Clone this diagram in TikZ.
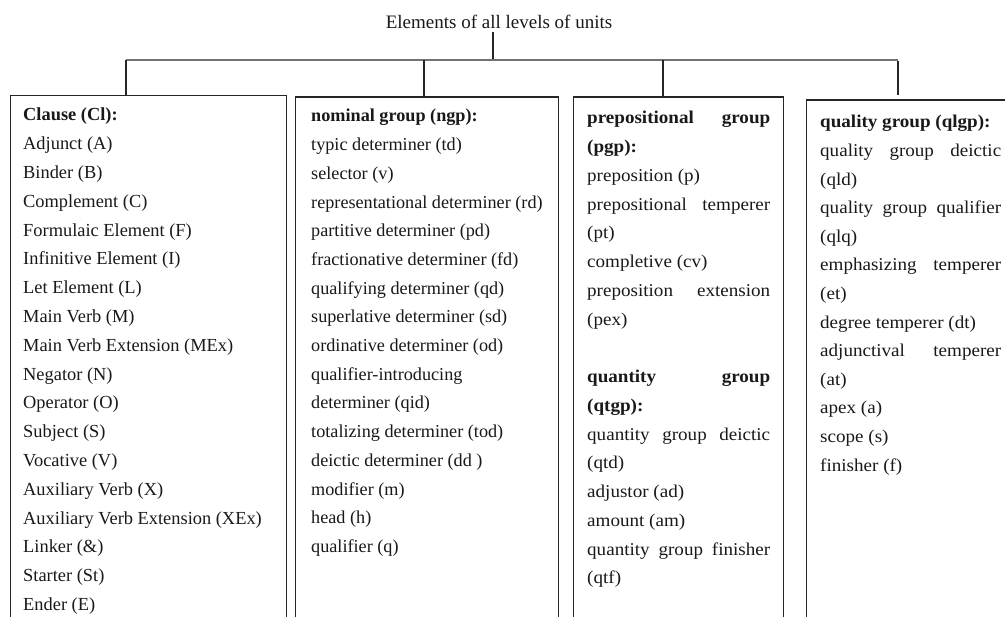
\documentclass[tikz,border=0pt]{standalone}
\usepackage{fontspec}
\setmainfont{Liberation Serif}
\newfontfamily\widefont[FakeStretch=1.06]{Liberation Serif}
% a line spread over the whole column width
\newcommand\spreadline[1]{\leavevmode\hbox to \linewidth{#1}}
\begin{document}
\begin{tikzpicture}[x=1pt,y=-1pt,
  unitbox/.style={draw=black!85, line width=1.4pt, anchor=north west,
    inner sep=0pt, minimum height=620pt},
  listtext/.style={anchor=base west, inner sep=0pt, text=black!90},
  link/.style={draw=black!85, line width=1.3pt},
  rail/.style={draw=black!55, line width=2.2pt}]
\useasboundingbox (0,0) rectangle (1005,617);
\fill[white] (0,0) rectangle (1005,617);

% heading
\node[anchor=base, inner sep=3.5pt, text=black!90,
  font=\fontsize{19}{22}\selectfont] (title) at (499,28.3)
  {Elements of all levels of units};

% the four unit boxes
\node[unitbox, minimum width=276pt] (b1) at (9.5,95) {};
\node[unitbox, minimum width=263pt] (b2) at (294.5,96.5) {};
\node[unitbox, minimum width=210pt] (b3) at (573,96.5) {};
\node[unitbox, minimum width=260pt] (b4) at (806,99.5) {};

% tree connectors
\coordinate (hub) at (493,60);
\coordinate (d1) at (126,60);
\coordinate (d2) at (424,60);
\coordinate (d3) at (663,60);
\coordinate (d4) at (898,60);
\draw[link] (title.south -| hub) -- (hub);
\draw[rail] (d1) -- (d4);
\draw[link] (d1) -- (d1 |- b1.north);
\draw[link] (d2) -- (d2 |- b2.north);
\draw[link] (d3) -- (d3 |- b3.north);
\draw[link] ([yshift=-1pt]d4) -- ([yshift=4.5pt]d4 |- b4.north);

% clause elements
\node[listtext, font=\fontsize{18.4}{28.8}\selectfont] (t1) at (23,121)
{\parbox[t]{255pt}{\raggedright\setlength\parindent{0pt}%
\textbf{Clause (Cl):}\\
Adjunct (A)\\
Binder (B)\\
Complement (C)\\
Formulaic Element (F)\\
Infinitive Element (I)\\
Let Element (L)\\
Main Verb (M)\\
Main Verb Extension (MEx)\\
Negator (N)\\
Operator (O)\\
Subject (S)\\
Vocative (V)\\
Auxiliary Verb (X)\\
Auxiliary Verb Extension (XEx)\\
Linker (\&)\\
Starter (St)\\
Ender (E)}};

% nominal group elements
\node[listtext, font=\fontsize{18.2}{28.7}\selectfont] (t2) at (311,122)
{\parbox[t]{240pt}{\raggedright\setlength\parindent{0pt}%
\textbf{nominal group (ngp):}\\
typic determiner (td)\\
selector (v)\\
representational determiner (rd)\\
partitive determiner (pd)\\
fractionative determiner (fd)\\
qualifying determiner (qd)\\
superlative determiner (sd)\\
ordinative determiner (od)\\
qualifier-introducing\\
determiner (qid)\\
totalizing determiner (tod)\\
deictic determiner (dd )\\
modifier (m)\\
head (h)\\
qualifier (q)}};

% prepositional and quantity group elements
\node[listtext, font=\widefont\fontsize{18}{28.75}\selectfont] (t3) at (587,124)
{\parbox[t]{183pt}{\raggedright\setlength\parindent{0pt}%
\spreadline{\textbf{prepositional}\hfill\textbf{group}}\\
\textbf{(pgp):}\\
preposition (p)\\
\spreadline{prepositional\hfill temperer}\\
(pt)\\
completive (cv)\\
\spreadline{preposition\hfill extension}\\
(pex)\\
\mbox{}\\
\spreadline{\textbf{quantity}\hfill\textbf{group}}\\
\textbf{(qtgp):}\\
\spreadline{quantity\hfill group\hfill deictic}\\
(qtd)\\
adjustor (ad)\\
amount (am)\\
\spreadline{quantity\hfill group\hfill finisher}\\
(qtf)}};

% quality group elements
\node[listtext, font=\widefont\fontsize{18}{28.6}\selectfont] (t4) at (820,128)
{\parbox[t]{181pt}{\raggedright\setlength\parindent{0pt}%
\textbf{quality group (qlgp):}\\
\spreadline{quality\hfill group\hfill deictic}\\
(qld)\\
\spreadline{quality\hfill group\hfill qualifier}\\
(qlq)\\
\spreadline{emphasizing\hfill temperer}\\
(et)\\
degree temperer (dt)\\
\spreadline{adjunctival\hfill temperer}\\
(at)\\
apex (a)\\
scope (s)\\
finisher (f)}};
\end{tikzpicture}
\end{document}
